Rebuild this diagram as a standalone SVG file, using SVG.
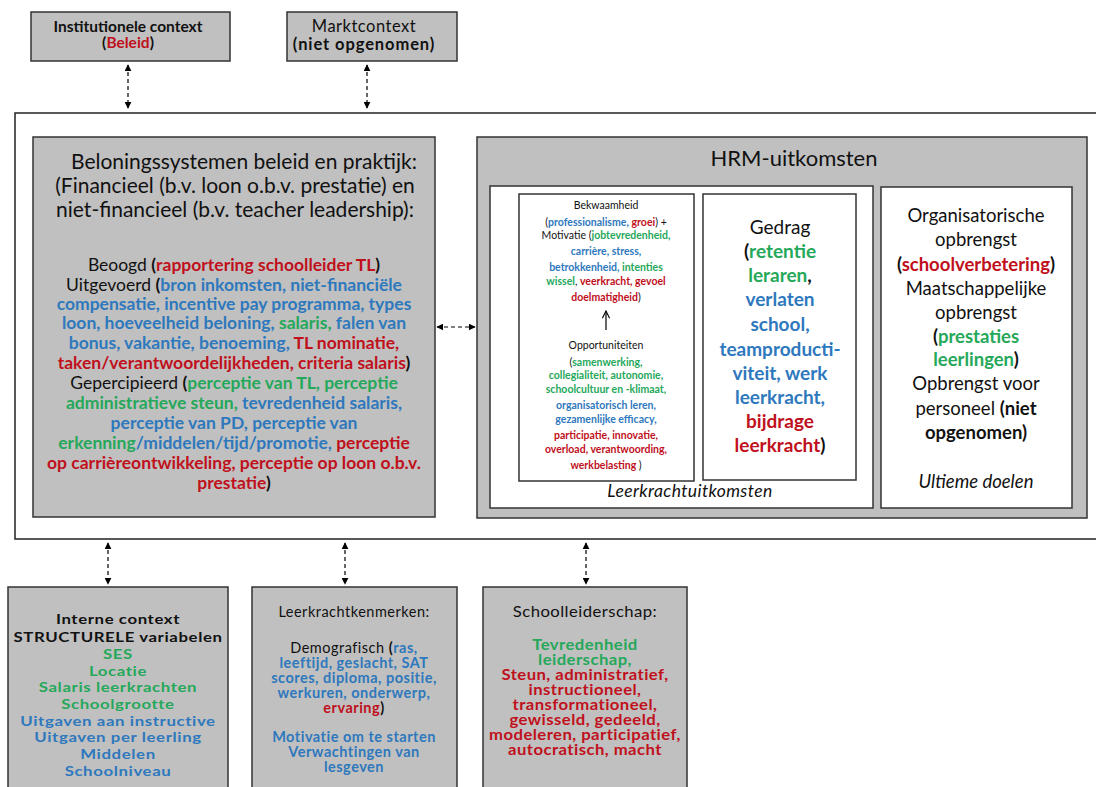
<svg xmlns="http://www.w3.org/2000/svg" width="1096" height="787" viewBox="0 0 1096 787">
  <defs>
    <marker id="ah" viewBox="0 0 10 10" refX="9" refY="5" markerWidth="7" markerHeight="7" orient="auto-start-reverse" markerUnits="userSpaceOnUse">
      <path d="M0,0 L10,5 L0,10 z" fill="#000"/>
    </marker>
    <marker id="up" viewBox="0 0 10 10" refX="9" refY="5" markerWidth="9" markerHeight="9" orient="auto" markerUnits="userSpaceOnUse">
      <path d="M1,1 L9,5 L1,9" fill="none" stroke="#000" stroke-width="1.2"/>
    </marker>
  </defs>
  <style>
    text { font-family: Lato, "Liberation Sans", sans-serif; text-anchor: middle; fill: #111; }
    .grey { fill: #c0c0c0; stroke: #333; stroke-width: 1.5; }
    .white { fill: #fff; stroke: #333; stroke-width: 1.5; }
    .b { font-weight: bold; }
    .i { font-style: italic; }
    .r { fill: #c0101c; font-weight: bold; }
    .u { fill: #2e78bd; font-weight: bold; }
    .g { fill: #25a85a; font-weight: bold; }
    .k { fill: #111; font-weight: bold; }
    .dash { stroke: #000; stroke-width: 1.2; stroke-dasharray: 4 3; fill: none; marker-start: url(#ah); marker-end: url(#ah); }
  </style>

  <rect width="1096" height="787" fill="#fff"/>

  <!-- outer frame around the reward system and HRM outcomes -->
  <rect id="frame" x="15" y="113" width="1090" height="426" fill="#fff" stroke="#222" stroke-width="1.5"/>

  <!-- top context boxes -->
  <g id="institutionele-context">
    <rect class="grey" x="31" y="12" width="199" height="49"/>
    <text x="128" y="32" font-size="15.5" class="b">Institutionele context</text>
    <text x="128" y="48" font-size="15.5" class="b">(<tspan class="r">Beleid</tspan>)</text>
  </g>
  <g id="marktcontext">
    <rect class="grey" x="287" y="12" width="170" height="49"/>
    <text x="364" y="32" font-size="16.5" letter-spacing="0.5">Marktcontext</text>
    <text x="364" y="50" font-size="16.5" letter-spacing="0.9" class="b">(niet opgenomen)</text>
  </g>

  <!-- reward systems policy and practice -->
  <g id="beloningssystemen">
    <rect class="grey" x="33" y="137" width="402" height="380"/>
    <g font-size="21">
      <text x="244" y="169">Beloningssystemen beleid en praktijk:</text>
      <text x="235" y="193">(Financieel  (b.v. loon o.b.v. prestatie) en</text>
      <text x="235" y="217">niet-financieel  (b.v. teacher leadership):</text>
    </g>
    <g font-size="17.5">
      <text x="234" y="271">Beoogd <tspan class="k">(</tspan><tspan class="r">rapportering schoolleider TL</tspan><tspan class="k">)</tspan></text>
      <text x="234" y="291">Uitgevoerd <tspan class="k">(</tspan><tspan class="u">bron inkomsten, niet-financiële</tspan></text>
      <text x="234" y="310"><tspan class="u">compensatie, incentive pay programma, types</tspan></text>
      <text x="234" y="329"><tspan class="u">loon, hoeveelheid beloning, </tspan><tspan class="g">salaris,</tspan><tspan class="u"> falen van</tspan></text>
      <text x="234" y="349"><tspan class="u">bonus, vakantie, benoeming, </tspan><tspan class="r">TL nominatie,</tspan></text>
      <text x="234" y="369"><tspan class="r">taken/verantwoordelijkheden, criteria salaris</tspan><tspan class="k">)</tspan></text>
      <text x="234" y="389">Gepercipieerd <tspan class="k">(</tspan><tspan class="g">perceptie van TL, perceptie</tspan></text>
      <text x="234" y="409"><tspan class="g">administratieve steun,</tspan><tspan class="u"> tevredenheid salaris,</tspan></text>
      <text x="234" y="429"><tspan class="u">perceptie van PD,  perceptie van</tspan></text>
      <text x="234" y="449"><tspan class="g">erkenning</tspan><tspan class="u">/middelen/tijd/promotie,</tspan><tspan class="r"> perceptie</tspan></text>
      <text x="234" y="469"><tspan class="r">op carrièreontwikkeling, perceptie op loon o.b.v.</tspan></text>
      <text x="234" y="489"><tspan class="r">prestatie</tspan><tspan class="k">)</tspan></text>
    </g>
  </g>

  <!-- HRM outcomes -->
  <g id="hrm-uitkomsten">
    <rect class="grey" x="477" y="137" width="610" height="381"/>
    <text x="794" y="166" font-size="22">HRM-uitkomsten</text>
  </g>

  <g id="leerkrachtuitkomsten">
    <rect class="white" x="490" y="186" width="383" height="322"/>
    <text x="690" y="497" font-size="17.5" letter-spacing="0.4" class="i">Leerkrachtuitkomsten</text>
  </g>

  <g id="bekwaamheid-opportuniteiten">
    <rect class="white" x="519" y="194" width="175" height="287"/>
    <g font-size="10.5">
      <text x="606" y="209">Bekwaamheid</text>
      <text x="606" y="226">(<tspan class="u">professionalisme,</tspan>  <tspan class="r">groei</tspan>) +</text>
      <text x="606" y="239">Motivatie  (<tspan class="g">jobtevredenheid,</tspan></text>
      <text x="606" y="255"><tspan class="u">carrière, stress,</tspan></text>
      <text x="606" y="271"><tspan class="u">betrokkenheid, </tspan> <tspan class="g">intenties</tspan></text>
      <text x="606" y="285"><tspan class="g">wissel</tspan>, <tspan class="r">veerkracht, gevoel</tspan></text>
      <text x="606" y="301"><tspan class="r">doelmatigheid</tspan>)</text>
      <text x="606" y="349">Opportuniteiten</text>
      <text x="606" y="366">(<tspan class="g">samenwerking,</tspan></text>
      <text x="606" y="379"><tspan class="g">collegialiteit,  autonomie,</tspan></text>
      <text x="606" y="393"><tspan class="g">schoolcultuur  en -klimaat,</tspan></text>
      <text x="606" y="409"><tspan class="u">organisatorisch  leren,</tspan></text>
      <text x="606" y="423"><tspan class="u">gezamenlijke efficacy,</tspan></text>
      <text x="606" y="439"><tspan class="r">participatie,  innovatie,</tspan></text>
      <text x="606" y="453"><tspan class="r">overload, verantwoording,</tspan></text>
      <text x="606" y="469"><tspan class="r">werkbelasting </tspan> )</text>
    </g>
  </g>

  <g id="gedrag">
    <rect class="white" x="703" y="194" width="153" height="286"/>
    <g font-size="19">
      <text x="780" y="234">Gedrag</text>
      <text x="780" y="258"><tspan class="k">(</tspan><tspan class="g">retentie</tspan></text>
      <text x="780" y="282"><tspan class="g">leraren</tspan><tspan class="k">,</tspan></text>
      <text x="780" y="306"><tspan class="u">verlaten</tspan></text>
      <text x="780" y="331"><tspan class="u">school,</tspan></text>
      <text x="780" y="356"><tspan class="u">teamproducti-</tspan></text>
      <text x="780" y="380"><tspan class="u">viteit, werk</tspan></text>
      <text x="780" y="404"><tspan class="u">leerkracht,</tspan></text>
      <text x="780" y="428"><tspan class="r">bijdrage</tspan></text>
      <text x="780" y="452"><tspan class="r">leerkracht</tspan><tspan class="k">)</tspan></text>
    </g>
  </g>

  <g id="ultieme-doelen">
    <rect class="white" x="881" y="187" width="191" height="321"/>
    <g font-size="18.5">
      <text x="976" y="222">Organisatorische</text>
      <text x="976" y="246">opbrengst</text>
      <text x="976" y="271"><tspan class="k">(</tspan><tspan class="r">schoolverbetering</tspan><tspan class="k">)</tspan></text>
      <text x="976" y="295">Maatschappelijke</text>
      <text x="976" y="319">opbrengst</text>
      <text x="976" y="343"><tspan class="k">(</tspan><tspan class="g">prestaties</tspan></text>
      <text x="976" y="366"><tspan class="g">leerlingen</tspan><tspan class="k">)</tspan></text>
      <text x="976" y="390">Opbrengst voor</text>
      <text x="976" y="415">personeel <tspan class="k">(niet</tspan></text>
      <text x="976" y="439" class="b">opgenomen)</text>
      <text x="976" y="488" class="i">Ultieme doelen</text>
    </g>
  </g>

  <!-- bottom context boxes; their text is set slightly wider than the face's natural width -->
  <g id="interne-context">
    <rect class="grey" x="8" y="587" width="220" height="210"/>
    <g font-size="14" letter-spacing="0.5" transform="translate(118 0) scale(1.2 1) translate(-118 0)">
      <text x="118" y="624" class="b">Interne context</text>
      <text x="118" y="642" class="b">STRUCTURELE variabelen</text>
      <text x="118" y="659" class="g">SES</text>
      <text x="118" y="676" class="g">Locatie</text>
      <text x="118" y="692.5" class="g">Salaris leerkrachten</text>
      <text x="118" y="709" class="g">Schoolgrootte</text>
      <text x="118" y="726" class="u">Uitgaven aan instructive</text>
      <text x="118" y="742.5" class="u">Uitgaven per leerling</text>
      <text x="118" y="759" class="u">Middelen</text>
      <text x="118" y="776" class="u">Schoolniveau</text>
    </g>
  </g>

  <g id="leerkrachtkenmerken">
    <rect class="grey" x="252" y="587" width="205" height="210"/>
    <g font-size="14.5" letter-spacing="0.5">
      <text x="354" y="617">Leerkrachtkenmerken:</text>
      <text x="354" y="653">Demografisch <tspan class="k">(</tspan><tspan class="u">ras,</tspan></text>
      <text x="354" y="668"><tspan class="u">leeftijd, geslacht, SAT</tspan></text>
      <text x="354" y="683"><tspan class="u">scores, diploma, positie,</tspan></text>
      <text x="354" y="698"><tspan class="u">werkuren, onderwerp,</tspan></text>
      <text x="354" y="713"><tspan class="r">ervaring</tspan><tspan class="k">)</tspan></text>
      <text x="354" y="742"><tspan class="u">Motivatie om te starten</tspan></text>
      <text x="354" y="757"><tspan class="u">Verwachtingen van</tspan></text>
      <text x="354" y="772"><tspan class="u">lesgeven</tspan></text>
    </g>
  </g>

  <g id="schoolleiderschap">
    <rect class="grey" x="483" y="587" width="204" height="210"/>
    <g font-size="14.5" letter-spacing="0.4" transform="translate(585 0) scale(1.15 1) translate(-585 0)">
      <text x="585" y="617">Schoolleiderschap:</text>
      <text x="585" y="650" class="g">Tevredenheid</text>
      <text x="585" y="665" class="g">leiderschap,</text>
      <text x="585" y="680" class="r">Steun, administratief,</text>
      <text x="585" y="695" class="r">instructioneel,</text>
      <text x="585" y="710" class="r">transformationeel,</text>
      <text x="585" y="725" class="r">gewisseld, gedeeld,</text>
      <text x="585" y="740" class="r">modeleren, participatief,</text>
      <text x="585" y="755" class="r">autocratisch,  macht</text>
    </g>
  </g>

  <!-- connectors -->
  <g id="connectors">
    <line class="dash" x1="128" y1="65" x2="128" y2="108"/>
    <line class="dash" x1="367" y1="65" x2="367" y2="108"/>
    <line class="dash" x1="437" y1="327" x2="475" y2="327"/>
    <line class="dash" x1="108" y1="543" x2="108" y2="584"/>
    <line class="dash" x1="345" y1="543" x2="345" y2="584"/>
    <line class="dash" x1="586" y1="543" x2="586" y2="584"/>
    <line x1="606" y1="330" x2="606" y2="311" stroke="#000" stroke-width="1.2" marker-end="url(#up)"/>
  </g>
</svg>
